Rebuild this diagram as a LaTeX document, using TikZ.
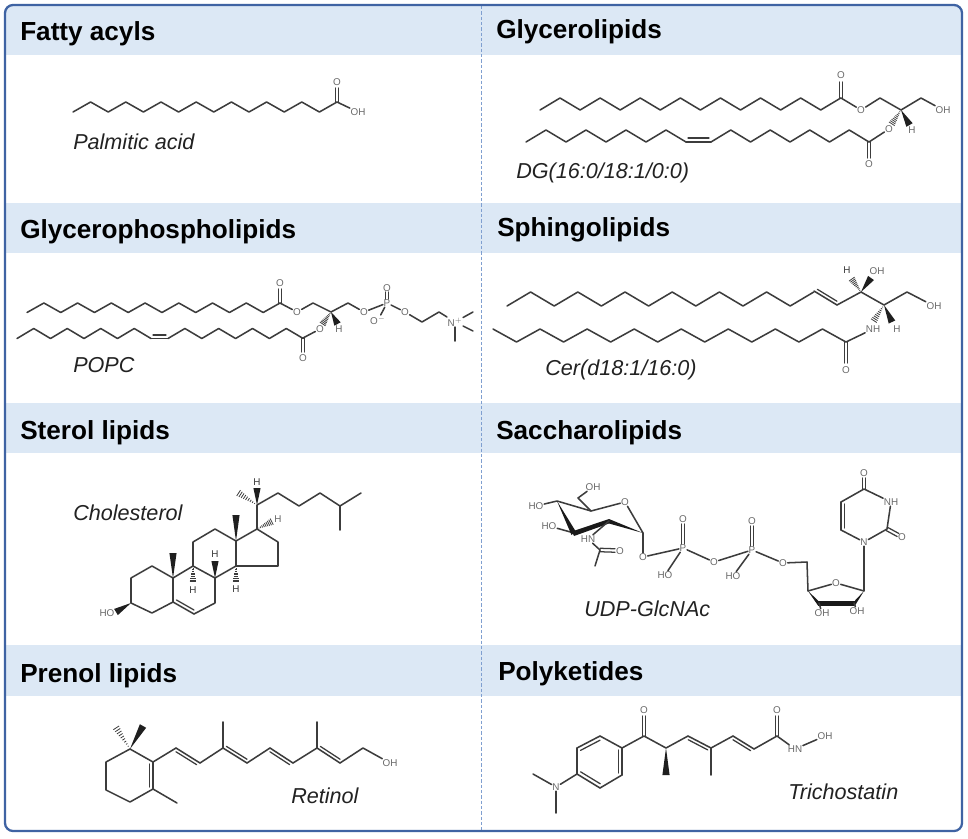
\documentclass[tikz,border=0pt]{standalone}
\usepackage{fontspec}
\setmainfont{Liberation Sans}
\usetikzlibrary{calc}
\definecolor{frameblue}{HTML}{3F63A3}
\definecolor{bandblue}{HTML}{DCE8F5}
\definecolor{dashblue}{HTML}{7F9FD0}
\definecolor{bondgrey}{HTML}{3C3C3C}
\definecolor{atomgrey}{HTML}{6A6A6A}
\definecolor{labelgrey}{HTML}{222222}
\tikzset{
  bond/.style={draw=bondgrey,line width=1.15pt,line join=round,line cap=round},
  thinbond/.style={draw=bondgrey,line width=0.95pt,line cap=round},
  wedgefill/.style={fill=black!88},
  hashline/.style={draw=bondgrey,line width=0.6pt},
  atom/.style={text=atomgrey,font=\fontsize{7.4pt}{8pt}\selectfont,inner sep=0.4pt},
  darkatom/.style={text=bondgrey,font=\fontsize{7.4pt}{8pt}\selectfont,inner sep=0.4pt},
  panelhead/.style={anchor=base west,inner sep=0pt,text=black,font=\fontsize{19.6pt}{22pt}\selectfont\bfseries},
  compname/.style={anchor=base west,inner sep=0pt,text=labelgrey,font=\fontsize{16.2pt}{19pt}\selectfont\itshape},
}
\newcommand\zig[5]{\draw[bond] (#1,#2) \foreach \i in {1,...,#5} { -- ({#1+\i*#3},{ifthenelse(mod(\i,2)==0,#2,#4)}) };}
\newcommand\wdg[3][2.7pt]{\fill[wedgefill] (#2) -- ($(#3)!#1!90:(#2)$) -- ($(#3)!#1!-90:(#2)$) -- cycle;}
\newcommand\hsh[2]{\foreach \t in {0.12,0.22,0.32,0.42,0.52,0.62,0.72,0.82,0.92}{\draw[hashline] ($(#1)!\t!(#2)!\t*2.8pt!90:(#1)$) -- ($(#1)!\t!(#2)!\t*2.8pt!-90:(#1)$);}}
\newcommand\dblc[2]{\draw[thinbond] ($(#1)!1.3pt!90:(#2)$) -- ($(#2)!1.3pt!-90:(#1)$); \draw[thinbond] ($(#1)!1.3pt!-90:(#2)$) -- ($(#2)!1.3pt!90:(#1)$);}
\newcommand\dbls[3]{\draw[bond] (#1) -- (#2); \draw[thinbond,shorten >=1.5pt,shorten <=1.5pt] ($(#1)!#3!90:(#2)$) -- ($(#2)!#3!-90:(#1)$);}
\begin{document}
\begin{tikzpicture}[x=0.75pt,y=-0.75pt]
\useasboundingbox (0,0) rectangle (968,839);
\fill[white] (0,0) rectangle (968,839);
% bands
\begin{scope}
\clip[rounded corners=6pt] (5,5) rectangle (962,831);
\fill[bandblue] (0,0) rectangle (968,55);
\fill[bandblue] (0,203) rectangle (968,253);
\fill[bandblue] (0,403) rectangle (968,453);
\fill[bandblue] (0,645) rectangle (968,696);
\end{scope}
\draw[dashblue,line width=0.75pt,dash pattern=on 2.4pt off 1.6pt] (481,6) -- (481,831);
\draw[frameblue,line width=1.7pt,rounded corners=6pt] (5,5) rectangle (962,831);
% titles
\node[panelhead] (t1) at (20,40) {Fatty acyls};
\node[panelhead] (t2) at (496,38.5) {Glycerolipids};
\node[panelhead] (t3) at (20,238) {Glycerophospholipids};
\node[panelhead] (t4) at (497,236.5) {Sphingolipids};
\node[panelhead] (t5) at (20,439) {Sterol lipids};
\node[panelhead] (t6) at (496,439) {Saccharolipids};
\node[panelhead] (t7) at (20,682) {Prenol lipids};
\node[panelhead] (t8) at (498,680) {Polyketides};
% compound names
\node[compname] (n1) at (73,149) {Palmitic acid};
\node[compname] (n2) at (516,178) {DG(16:0/18:1/0:0)};
\node[compname] (n3) at (73,372) {POPC};
\node[compname] (n4) at (545,375) {Cer(d18:1/16:0)};
\node[compname] (n5) at (73,520) {Cholesterol};
\node[compname] (n6) at (584,616) {UDP-GlcNAc};
\node[compname] (n7) at (291,803) {Retinol};
\node[compname] (n8) at (788,799) {Trichostatin};

% ---------- Palmitic acid
\zig{73}{112}{17.6}{102}{15}
\node[atom] (pa1) at (337,82) {O};
\node[atom] (pa2) at (358,112) {OH};
\dblc{337,102}{337,88}
\draw[bond] (337,102) -- (pa2);

% ---------- DG
\zig{540}{110}{20.05}{98}{15}
\node[atom] (dg1) at (841,75) {O};
\node[atom] (dg2) at (861,110) {O};
\node[atom] (dg3) at (943,110) {OH};
\node[atom] (dg4) at (889,129) {O};
\node[atom] (dg5) at (912,130) {H};
\node[atom] (dg6) at (869,164) {O};
\dblc{841,98}{841,82}
\draw[bond] (841,98) -- (dg2);
\draw[bond] (dg2) -- (880,98) -- (901,110) -- (921,98) -- (dg3);
\hsh{901,110}{891,125}
\wdg{901,110}{909.5,125}
\zig{526}{142}{20}{130}{8}
\draw[bond] (686,142) -- (711,142);
\draw[thinbond] (688,138) -- (709,138);
\zig{711}{142}{19.75}{130}{8}
\draw[bond] (869,142) -- (dg4);
\dblc{869,142}{869,158}

% ---------- POPC
\zig{27}{312.5}{16.87}{303}{15}
\node[atom] (po1) at (280,283) {O};
\node[atom] (po2) at (297,312) {O};
\node[atom] (po3) at (364,312) {O};
\node[atom] (po4) at (387,303) {P};
\node[atom] (po5) at (387,288) {O};
\node[atom] (po6) at (378,320) {O$^{-}$};
\node[atom] (po7) at (405,312) {O};
\node[atom] (po8) at (455,322) {N$^{+}$};
\node[atom] (po9) at (320,329) {O};
\node[atom] (po10) at (339,329) {H};
\node[atom] (po11) at (303,358) {O};
\dblc{280,303}{280,289}
\draw[bond] (280,303) -- (po2);
\draw[bond] (po2) -- (313,303) -- (331,312) -- (348,303) -- (po3);
\draw[bond] (po3) -- (po4);
\draw[bond] (po4) -- (po6);
\draw[bond] (po4) -- (po7);
\dblc{387,299}{387,292}
\draw[bond] (po7) -- (422,322) -- (439,312) -- (po8);
\draw[bond] (po8) -- (473,312);
\draw[bond] (po8) -- (473,331);
\draw[bond] (po8) -- (455,341);
\hsh{331,312}{322,325}
\wdg{331,312}{337.5,324}
\zig{17}{338.5}{16.75}{328.5}{8}
\draw[bond] (151,338.5) -- (168,338.5);
\draw[thinbond] (153,335) -- (166,335);
\zig{168}{338.5}{16.9}{328.5}{8}
\draw[bond] (303,338) -- (po9);
\dblc{303,338}{303,352}

% ---------- Ceramide
\zig{507}{306}{23.6}{292}{13}
\dbls{814,291}{837,305}{2.4pt}
\node[atom] (ce1) at (877,271) {OH};
\node[darkatom] (ce2) at (847,270) {H};
\node[atom] (ce3) at (934,306) {OH};
\node[atom] (ce4) at (873,329) {NH};
\node[atom] (ce5) at (897,329) {H};
\node[atom] (ce6) at (846,370) {O};
\draw[bond] (837,305) -- (861,292) -- (884,305) -- (907,292) -- (ce3);
\wdg{861,292}{871,278}
\hsh{861,292}{851,278}
\wdg{884,305}{892,322}
\hsh{884,305}{873,322}
\zig{493}{329}{23.53}{342}{15}
\draw[bond] (846,342) -- (ce4);
\dblc{846,342}{846,363}

% ---------- Cholesterol
\coordinate (c1) at (131,603);
\coordinate (c2) at (131,578);
\coordinate (c3) at (152,566);
\coordinate (c4) at (173,578);
\coordinate (c5) at (173,602);
\coordinate (c6) at (152,613);
\coordinate (c7) at (194,614);
\coordinate (c8) at (215,603);
\coordinate (c9) at (215,578);
\coordinate (c10) at (193,566);
\coordinate (c11) at (193,542);
\coordinate (c12) at (215,529);
\coordinate (c13) at (236,541);
\coordinate (c14) at (236,566);
\coordinate (c15) at (278,566);
\coordinate (c16) at (278,542);
\coordinate (c17) at (257,529);
\coordinate (c20) at (257,505);
\draw[bond] (c1) -- (c2) -- (c3) -- (c4) -- (c5) -- (c6) -- cycle;
\dbls{c5}{c7}{2.6pt}
\draw[bond] (c7) -- (c8) -- (c9) -- (c10) -- (c4);
\draw[bond] (c10) -- (c11) -- (c12) -- (c13) -- (c14) -- (c9);
\draw[bond] (c13) -- (c17) -- (c16) -- (c15) -- (c14);
\draw[bond] (c17) -- (c20) -- (278,493) -- (299,506) -- (320,493) -- (340,506) -- (361,493);
\draw[bond] (340,506) -- (340,530);
\node[atom] (ch1) at (107,613) {HO};
\node[darkatom] (ch2) at (193,590) {H};
\node[darkatom] (ch3) at (215,554) {H};
\node[darkatom] (ch4) at (236,589) {H};
\node[atom] (ch5) at (278,519) {H};
\node[darkatom] (ch6) at (257,482) {H};
\wdg{c1}{116,612}
\wdg{c4}{173,553}
\wdg{c13}{236,515}
\wdg{c9}{215,561}
\hsh{c10}{193,583}
\hsh{c14}{236,583}
\hsh{c17}{273,521}
\wdg{c20}{257,488}
\hsh{c20}{237,492}

% ---------- UDP-GlcNAc
\node[atom] (ud1) at (625,502) {O};
\node[atom] (ud2) at (593,487) {OH};
\node[atom] (ud3) at (536,506) {HO};
\node[atom] (ud4) at (549,526) {HO};
\node[atom] (ud5) at (588,539) {HN};
\node[atom] (ud6) at (620,551) {O};
\node[atom] (ud7) at (643,557) {O};
\node[atom] (ud8) at (683,548) {P};
\node[atom] (ud9) at (683,519) {O};
\node[atom] (ud10) at (665,575) {HO};
\node[atom] (ud11) at (714,562) {O};
\node[atom] (ud12) at (752,550) {P};
\node[atom] (ud13) at (752,521) {O};
\node[atom] (ud14) at (733,576) {HO};
\node[atom] (ud15) at (783,563) {O};
\node[atom] (ud16) at (836,583) {O};
\node[atom] (ud17) at (822,613) {OH};
\node[atom] (ud18) at (857,611) {OH};
\node[atom] (ud19) at (864,542) {N};
\node[atom] (ud20) at (891,502) {NH};
\node[atom] (ud21) at (902,537) {O};
\node[atom] (ud22) at (864,473) {O};
% sugar
\coordinate (s1) at (643,533);
\coordinate (s2) at (609,521);
\coordinate (s3) at (574,533);
\coordinate (s4) at (557,501);
\coordinate (s5) at (591,511);
\draw[bond] (s1) -- (ud1);
\draw[bond] (ud1) -- (s5) -- (s4) -- (ud3);
\draw[bond] (s5) -- (578,498) -- (ud2);
\draw[bond] (s3) -- (ud4);
\fill[black!90] (s4) -- (571.5,535) -- (575.5,531) -- cycle;
\fill[black!90] (572,531.5) -- (609,519) -- (609,523.5) -- (574,536) -- cycle;
\fill[black!90] (609,519) -- (643,533) -- (609,523.5) -- cycle;
\draw[bond] (s2) -- (ud5);
\draw[bond] (ud5) -- (600,550);
\dblc{600,550}{615,550.5}
\draw[bond] (600,550) -- (595,566);
\draw[bond] (s1) -- (ud7);
\draw[bond] (ud7) -- (ud8);
\dblc{683,544}{683,524}
\draw[bond] (ud8) -- (ud10);
\draw[bond] (ud8) -- (ud11);
\draw[bond] (ud11) -- (ud12);
\dblc{752,546}{752,526}
\draw[bond] (ud12) -- (ud14);
\draw[bond] (ud12) -- (ud15);
% ribose
\coordinate (r1) at (864,591);
\coordinate (r2) at (854,603);
\coordinate (r3) at (819,603);
\coordinate (r4) at (808,591);
\draw[bond] (ud15) -- (807,562) -- (r4) -- (ud16);
\draw[bond] (ud16) -- (r1) -- (ud19);
\fill[black!90] (r4) -- (818,600.5) -- (818,605.5) -- cycle;
\fill[black!90] (818,600.5) -- (855,600.5) -- (855,605.5) -- (818,605.5) -- cycle;
\fill[black!90] (r1) -- (855,600.5) -- (855,605.5) -- cycle;
\draw[bond] (r3) -- (ud17);
\draw[bond] (r2) -- (ud18);
% uracil
\coordinate (u6) at (841,530);
\coordinate (u5) at (841,502);
\coordinate (u4) at (864,489);
\coordinate (u2) at (887,529);
\draw[bond] (ud19) -- (u6);
\dbls{u6}{u5}{-2.6pt}
\draw[bond] (u5) -- (u4) -- (ud20);
\draw[bond] (ud20) -- (u2) -- (ud19);
\dblc{u4}{864,478}
\dblc{u2}{898,535}

% ---------- Retinol
\coordinate (v1) at (130,749);
\coordinate (v2) at (153,762);
\coordinate (v3) at (153,789);
\draw[bond] (v1) -- (106,762) -- (106,790) -- (130,802) -- (v3);
\draw[bond] (v1) -- (v2);
\dbls{v2}{v3}{-2.9pt}
\draw[bond] (v3) -- (177,803);
\wdg{v1}{143,726}
\hsh{v1}{115,726}
\node[atom] (re1) at (390,763) {OH};
\coordinate (w1) at (176,748);
\coordinate (w2) at (200,763);
\coordinate (w3) at (223,748);
\coordinate (w4) at (247,763);
\coordinate (w5) at (270,748);
\coordinate (w6) at (293,763);
\coordinate (w7) at (317,748);
\coordinate (w8) at (340,763);
\coordinate (w9) at (363,748);
\draw[bond] (v2) -- (w1);
\dbls{w1}{w2}{-2.4pt}
\draw[bond] (w2) -- (w3);
\dbls{w3}{w4}{2.4pt}
\draw[bond] (w4) -- (w5);
\dbls{w5}{w6}{-2.4pt}
\draw[bond] (w6) -- (w7);
\dbls{w7}{w8}{2.4pt}
\draw[bond] (w8) -- (w9) -- (re1);
\draw[bond] (w3) -- (223,722);
\draw[bond] (w7) -- (317,722);

% ---------- Trichostatin
\node[atom] (tr1) at (556,787) {N};
\node[atom] (tr2) at (644,710) {O};
\node[atom] (tr3) at (777,710) {O};
\node[atom] (tr4) at (795,749) {HN};
\node[atom] (tr5) at (825,736) {OH};
\draw[bond] (tr1) -- (533,774);
\draw[bond] (tr1) -- (556,813);
\draw[bond] (tr1) -- (577,774);
\coordinate (b1) at (577,774);
\coordinate (b2) at (577,748);
\coordinate (b3) at (600,736);
\coordinate (b4) at (622,748);
\coordinate (b5) at (622,775);
\coordinate (b6) at (600,788);
\draw[bond] (b1) -- (b2);
\dbls{b2}{b3}{-2.8pt}
\draw[bond] (b3) -- (b4);
\dbls{b4}{b5}{-2.8pt}
\draw[bond] (b5) -- (b6);
\dbls{b6}{b1}{-2.8pt}
\coordinate (k1) at (644,736);
\coordinate (k2) at (666,748);
\coordinate (k3) at (688,736);
\coordinate (k4) at (711,748);
\coordinate (k5) at (733,736);
\coordinate (k6) at (754,749);
\coordinate (k7) at (777,736);
\draw[bond] (b4) -- (k1) -- (k2) -- (k3);
\dblc{k1}{644,716}
\wdg{k2}{666,775}
\dbls{k3}{k4}{-2.4pt}
\draw[bond] (k4) -- (k5);
\draw[bond] (k4) -- (711,775);
\dbls{k5}{k6}{-2.4pt}
\draw[bond] (k6) -- (k7);
\dblc{k7}{777,716}
\draw[bond] (k7) -- (tr4);
\draw[bond] (tr4) -- (tr5);
\end{tikzpicture}
\end{document}
